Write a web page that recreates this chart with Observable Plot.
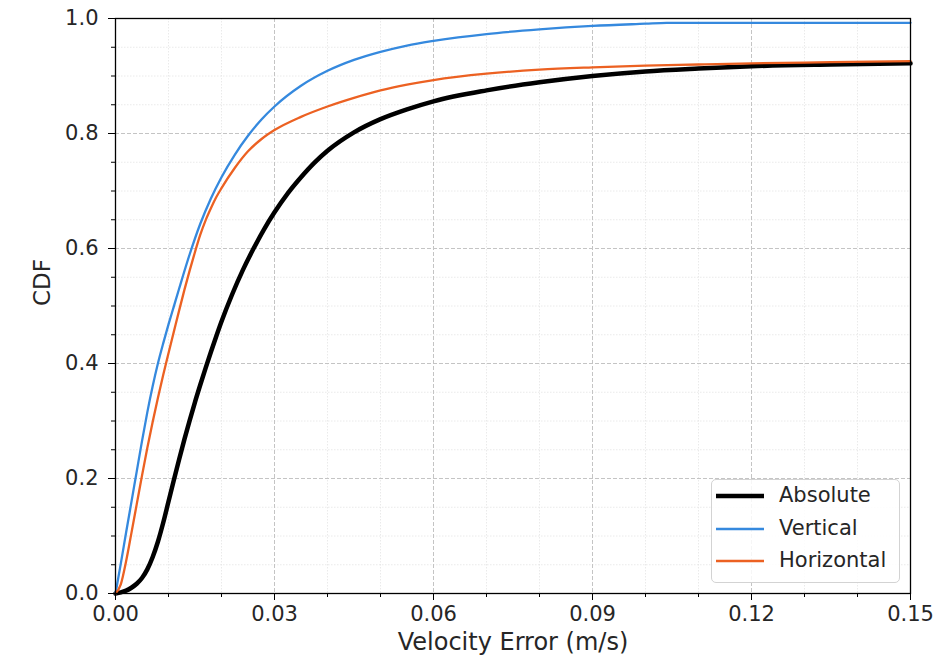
<!DOCTYPE html>
<html>
<head>
<meta charset="utf-8">
<script src="https://cdn.jsdelivr.net/npm/d3@7"></script>
<script src="https://cdn.jsdelivr.net/npm/@observablehq/plot@0.6"></script>
<style>
  html, body { margin: 0; padding: 0; background: #fff; }
  #wrap { position: relative; width: 947px; height: 661px; font-family: "DejaVu Sans", sans-serif; }
  #legend { position: absolute; left: 711px; top: 479px; width: 189px; height: 104px;
    border: 1px solid #d3d3d3; border-radius: 5px; background: rgba(255,255,255,0.85); box-sizing: border-box; }
  .row { position: absolute; left: 0; height: 0; }
  .row svg { position: absolute; left: 4px; top: -4px; }
  .row span { position: absolute; left: 67px; top: -14px; font-size: 21px; color: #262626; white-space: nowrap; line-height: 26px; }
</style>
</head>
<body>
<div id="wrap"></div>
<script>
// ---- data ----
const seriesNames = ["Absolute", "Vertical", "Horizontal"];
const seriesColors = ["#000000", "#3589de", "#ec6122"];
const seriesWidths = [4.5, 2.3, 2.3];

const absX = [0, 0.001, 0.002, 0.003, 0.004, 0.005, 0.006, 0.007, 0.008, 0.009, 0.010, 0.011, 0.012, 0.013, 0.014, 0.015, 0.016, 0.017, 0.018, 0.019, 0.020, 0.022, 0.024, 0.026, 0.028, 0.030, 0.0325, 0.035, 0.0375, 0.040, 0.045, 0.050, 0.055, 0.060, 0.070, 0.080, 0.090, 0.100, 0.110, 0.120, 0.135, 0.150];
const absY = [0, 0.002, 0.005, 0.010, 0.017, 0.027, 0.042, 0.063, 0.090, 0.123, 0.160, 0.197, 0.233, 0.268, 0.301, 0.333, 0.363, 0.392, 0.420, 0.447, 0.473, 0.520, 0.562, 0.599, 0.633, 0.663, 0.696, 0.724, 0.749, 0.770, 0.802, 0.825, 0.842, 0.856, 0.875, 0.889, 0.900, 0.908, 0.913, 0.917, 0.920, 0.922];

const verX = [0, 0.001, 0.002, 0.003, 0.004, 0.005, 0.006, 0.007, 0.008, 0.009, 0.010, 0.011, 0.012, 0.014, 0.016, 0.018, 0.020, 0.0225, 0.025, 0.0275, 0.030, 0.035, 0.040, 0.045, 0.050, 0.055, 0.060, 0.070, 0.080, 0.090, 0.100, 0.104, 0.120, 0.150];
const verY = [0, 0.052, 0.106, 0.159, 0.212, 0.265, 0.315, 0.360, 0.400, 0.435, 0.468, 0.499, 0.530, 0.590, 0.643, 0.687, 0.724, 0.763, 0.796, 0.824, 0.847, 0.883, 0.909, 0.928, 0.942, 0.953, 0.961, 0.973, 0.981, 0.987, 0.991, 0.9925, 0.9925, 0.9925];

const horX = [0, 0.001, 0.002, 0.003, 0.004, 0.005, 0.006, 0.007, 0.008, 0.009, 0.010, 0.011, 0.012, 0.013, 0.014, 0.015, 0.016, 0.017, 0.018, 0.019, 0.020, 0.0225, 0.025, 0.0275, 0.030, 0.035, 0.040, 0.045, 0.050, 0.055, 0.060, 0.070, 0.080, 0.090, 0.100, 0.110, 0.120, 0.135, 0.150];
const horY = [0, 0.016, 0.056, 0.105, 0.155, 0.205, 0.253, 0.298, 0.340, 0.380, 0.418, 0.455, 0.492, 0.528, 0.562, 0.594, 0.624, 0.649, 0.670, 0.689, 0.705, 0.740, 0.769, 0.790, 0.806, 0.829, 0.847, 0.862, 0.875, 0.885, 0.893, 0.904, 0.911, 0.915, 0.918, 0.920, 0.922, 0.924, 0.926];

const xMajor = [0, 0.03, 0.06, 0.09, 0.12, 0.15];
const xMinor = [0.01, 0.02, 0.04, 0.05, 0.07, 0.08, 0.10, 0.11, 0.13, 0.14];
const yMajor = [0, 0.2, 0.4, 0.6, 0.8, 1.0];
const yMinor = [0.05, 0.1, 0.15, 0.25, 0.3, 0.35, 0.45, 0.5, 0.55, 0.65, 0.7, 0.75, 0.85, 0.9, 0.95];
const xLabel = "Velocity Error (m/s)";
const yLabel = "CDF";

// ---- build table ----
const xs = [absX, verX, horX], ys = [absY, verY, horY];
const rows = [];
seriesNames.forEach((name, i) => xs[i].forEach((x, j) => rows.push({series: name, x, y: ys[i][j]})));

const fx = d3.format(".2f"), fy = d3.format(".1f");
const marks = [
  Plot.ruleX(xMinor, {stroke: "#e4e4e4", strokeDasharray: "1.5,1.5", strokeWidth: 0.8}),
  Plot.ruleY(yMinor, {stroke: "#e4e4e4", strokeDasharray: "1.5,1.5", strokeWidth: 0.8}),
  Plot.ruleX(xMajor.slice(1, -1), {stroke: "#c4c4c4", strokeDasharray: "4,2", strokeWidth: 1}),
  Plot.ruleY(yMajor.slice(1, -1), {stroke: "#c4c4c4", strokeDasharray: "4,2", strokeWidth: 1})
];
seriesNames.forEach((name, i) => {
  marks.push(Plot.line(rows.filter(d => d.series === name), {
    x: "x", y: "y", stroke: seriesColors[i], strokeWidth: seriesWidths[i], curve: "monotone-x"
  }));
});
marks.push(
  Plot.frame({stroke: "#000", strokeWidth: 1.3}),
  Plot.axisX(xMinor, {tickSize: 4, tickFormat: () => "", stroke: "#000", label: null}),
  Plot.axisY(yMinor, {tickSize: 4, tickFormat: () => "", stroke: "#000", label: null}),
  Plot.axisX(xMajor, {tickSize: 7, tickPadding: 6, tickFormat: fx, stroke: "#000", fill: "#262626", label: null}),
  Plot.axisY(yMajor, {tickSize: 7, tickPadding: 10, tickFormat: fy, stroke: "#000", fill: "#262626", label: null}),
  Plot.text([xLabel], {frameAnchor: "bottom", dy: 56, fontSize: 24, fill: "#262626", text: d => d}),
  Plot.text([yLabel], {frameAnchor: "left", dx: -73, rotate: -90, fontSize: 23, fill: "#262626", text: d => d})
);

const chart = Plot.plot({
  width: 947, height: 661,
  marginLeft: 115, marginRight: 37, marginTop: 18, marginBottom: 68,
  x: {domain: [0, 0.15]},
  y: {domain: [0, 1]},
  style: {fontFamily: "DejaVu Sans", fontSize: "21px", background: "#fff", color: "#262626", overflow: "visible"},
  marks
});

const wrap = document.getElementById("wrap");
wrap.appendChild(chart);

// legend
const legend = document.createElement("div");
legend.id = "legend";
const rowY = [16, 49, 81];
seriesNames.forEach((name, i) => {
  const r = document.createElement("div");
  r.className = "row";
  r.style.top = rowY[i] + "px";
  r.innerHTML = `<svg width="50" height="8"><line x1="0" x2="48" y1="4" y2="4" stroke="${seriesColors[i]}" stroke-width="${seriesWidths[i]}"/></svg><span>${name}</span>`;
  legend.appendChild(r);
});
wrap.appendChild(legend);
</script>
</body>
</html>
